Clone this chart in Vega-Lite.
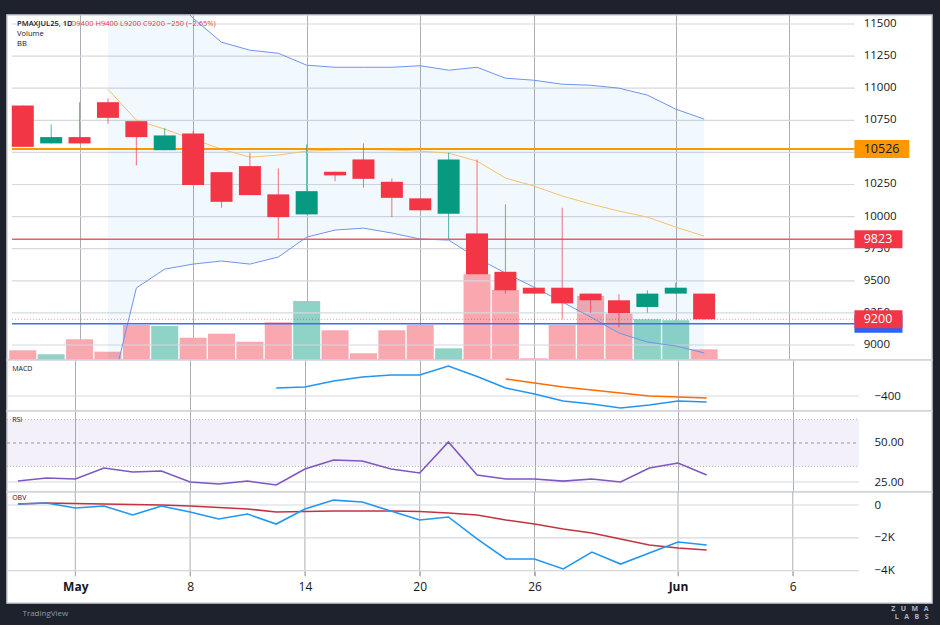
{
  "$schema": "https://vega.github.io/schema/vega-lite/v6.json",
  "background": "#1e222d",
  "padding": {"left": 5, "top": 14, "right": 9, "bottom": 5},
  "spacing": 0,
  "bounds": "flush",
  "datasets": {
    "bars": [
      {"i": 0, "o": 10865, "h": 10865, "l": 10543, "c": 10543, "v": 97, "up": null, "lo": null, "mid": null, "macd": null, "sig": null, "rsi": 25.6, "obv": 60, "obvma": 60},
      {"i": 1, "o": 10570, "h": 10718, "l": 10570, "c": 10619, "v": 57, "up": null, "lo": null, "mid": null, "macd": null, "sig": null, "rsi": 27.6, "obv": 120, "obvma": 120},
      {"i": 2, "o": 10619, "h": 10891, "l": 10570, "c": 10570, "v": 207, "up": null, "lo": null, "mid": null, "macd": null, "sig": null, "rsi": 26.9, "obv": -180, "obvma": 90},
      {"i": 3, "o": 10891, "h": 10920, "l": 10722, "c": 10769, "v": 83, "up": 13451, "lo": 8533, "mid": 10992, "macd": null, "sig": null, "rsi": 34.0, "obv": -60, "obvma": 60},
      {"i": 4, "o": 10743, "h": 10743, "l": 10398, "c": 10619, "v": 350, "up": 12058, "lo": 9444, "mid": 10751, "macd": null, "sig": null, "rsi": 31.4, "obv": -610, "obvma": 30},
      {"i": 5, "o": 10517, "h": 10691, "l": 10517, "c": 10632, "v": 340, "up": 11770, "lo": 9591, "mid": 10681, "macd": null, "sig": null, "rsi": 32.1, "obv": -60, "obvma": 0},
      {"i": 6, "o": 10647, "h": 10665, "l": 10245, "c": 10245, "v": 223, "up": 11545, "lo": 9630, "mid": 10603, "macd": null, "sig": null, "rsi": 25.0, "obv": -430, "obvma": -60},
      {"i": 7, "o": 10346, "h": 10346, "l": 10069, "c": 10115, "v": 263, "up": 11358, "lo": 9654, "mid": 10525, "macd": null, "sig": null, "rsi": 23.7, "obv": -850, "obvma": -150},
      {"i": 8, "o": 10393, "h": 10497, "l": 10167, "c": 10167, "v": 183, "up": 11296, "lo": 9630, "mid": 10463, "macd": null, "sig": null, "rsi": 25.6, "obv": -550, "obvma": -240},
      {"i": 9, "o": 10173, "h": 10375, "l": 9823, "c": 9996, "v": 377, "up": 11272, "lo": 9685, "mid": 10479, "macd": -320, "sig": null, "rsi": 23.1, "obv": -1160, "obvma": -430},
      {"i": 10, "o": 10017, "h": 10562, "l": 10017, "c": 10198, "v": 590, "up": 11179, "lo": 9840, "mid": 10510, "macd": -310, "sig": null, "rsi": 33.3, "obv": -240, "obvma": -400},
      {"i": 11, "o": 10349, "h": 10349, "l": 10276, "c": 10321, "v": 297, "up": 11163, "lo": 9895, "mid": 10518, "macd": -250, "sig": null, "rsi": 39.1, "obv": 300, "obvma": -370},
      {"i": 12, "o": 10445, "h": 10570, "l": 10224, "c": 10294, "v": 67, "up": 11163, "lo": 9910, "mid": 10525, "macd": -210, "sig": null, "rsi": 38.5, "obv": 180, "obvma": -370},
      {"i": 13, "o": 10271, "h": 10297, "l": 9996, "c": 10146, "v": 297, "up": 11163, "lo": 9872, "mid": 10518, "macd": -190, "sig": null, "rsi": 33.3, "obv": -370, "obvma": -370},
      {"i": 14, "o": 10142, "h": 10142, "l": 10049, "c": 10049, "v": 350, "up": 11175, "lo": 9825, "mid": 10510, "macd": -190, "sig": null, "rsi": 30.8, "obv": -910, "obvma": -400},
      {"i": 15, "o": 10023, "h": 10497, "l": 9823, "c": 10445, "v": 117, "up": 11140, "lo": 9817, "mid": 10494, "macd": -100, "sig": null, "rsi": 50.6, "obv": -730, "obvma": -490},
      {"i": 16, "o": 9869, "h": 10445, "l": 9550, "c": 9550, "v": 857, "up": 11163, "lo": 9677, "mid": 10432, "macd": -205, "sig": null, "rsi": 29.5, "obv": -2070, "obvma": -610},
      {"i": 17, "o": 9570, "h": 10095, "l": 9400, "c": 9426, "v": 700, "up": 11078, "lo": 9560, "mid": 10300, "macd": -320, "sig": -230, "rsi": 26.9, "obv": -3290, "obvma": -910},
      {"i": 18, "o": 9446, "h": 9446, "l": 9400, "c": 9400, "v": 17, "up": 11062, "lo": 9451, "mid": 10238, "macd": -380, "sig": -270, "rsi": 26.9, "obv": -3290, "obvma": -1160},
      {"i": 19, "o": 9446, "h": 10069, "l": 9200, "c": 9324, "v": 350, "up": 11031, "lo": 9335, "mid": 10160, "macd": -450, "sig": -310, "rsi": 25.6, "obv": -3900, "obvma": -1460},
      {"i": 20, "o": 9400, "h": 9400, "l": 9250, "c": 9348, "v": 640, "up": 11023, "lo": 9218, "mid": 10098, "macd": -480, "sig": -340, "rsi": 26.9, "obv": -2870, "obvma": -1710},
      {"i": 21, "o": 9348, "h": 9395, "l": 9135, "c": 9247, "v": 463, "up": 11000, "lo": 9093, "mid": 10043, "macd": -520, "sig": -370, "rsi": 25.0, "obv": -3600, "obvma": -2070},
      {"i": 22, "o": 9296, "h": 9426, "l": 9252, "c": 9400, "v": 407, "up": 10946, "lo": 9023, "mid": 9996, "macd": -490, "sig": -400, "rsi": 34.0, "obv": -2930, "obvma": -2440},
      {"i": 23, "o": 9400, "h": 9485, "l": 9400, "c": 9446, "v": 397, "up": 10837, "lo": 8992, "mid": 9918, "macd": -450, "sig": -410, "rsi": 37.2, "obv": -2260, "obvma": -2620},
      {"i": 24, "o": 9400, "h": 9400, "l": 9200, "c": 9200, "v": 107, "up": 10759, "lo": 8938, "mid": 9848, "macd": -460, "sig": -420, "rsi": 29.5, "obv": -2440, "obvma": -2740}
    ],
    "pgrid": [{"p": 9000}, {"p": 9250}, {"p": 9500}, {"p": 9750}, {"p": 10000}, {"p": 10250}, {"p": 10500}, {"p": 10750}, {"p": 11000}, {"p": 11250}, {"p": 11500}],
    "ticks": [{"t": 2}, {"t": 6}, {"t": 10}, {"t": 14}, {"t": 18}, {"t": 23}, {"t": 27}]
  },
  "vconcat": [
    {
      "width": 925,
      "height": 345,
      "data": {"name": "bars"},
      "resolve": {"scale": {"y": "independent"}},
      "layer": [
        {
          "mark": {"type": "bar", "width": 27, "clip": true},
          "encoding": {
            "x": {"field": "i", "type": "quantitative", "scale": {"domain": [-0.38, 31.85], "nice": false, "zero": false},
              "axis": {"values": [2, 6, 10, 14, 18, 23, 27], "labels": false, "ticks": false, "domain": false, "grid": true, "gridColor": "#abaeb6", "gridWidth": 1, "title": null}},
            "y": {"field": "v", "type": "quantitative", "scale": {"domain": [0, 3450], "nice": false}, "axis": null},
            "color": {"condition": {"test": "datum.c >= datum.o", "value": "#8fd3c6"}, "value": "#f8a8ae"}
          }
        },
        {
          "layer": [
            {
              "data": {"name": "pgrid"},
              "mark": {"type": "rule", "color": "#d6d8de", "strokeWidth": 1.2},
              "encoding": {
                "x": {"datum": -0.38}, "x2": {"datum": 29.3},
                "y": {"field": "p", "type": "quantitative", "scale": {"domain": [8883, 11570], "nice": false, "zero": false}, "title": null,
                  "axis": {"orient": "right", "labels": false, "grid": false, "ticks": false, "domain": false}}
              }
            },
            {
              "data": {"name": "pgrid"},
              "transform": [{"filter": "datum.p != 10500"}],
              "mark": {"type": "text", "align": "left", "baseline": "middle", "fontSize": 11.5, "color": "#131722", "font": "Open Sans"},
              "encoding": {
                "x": {"datum": 29.62},
                "y": {"field": "p", "type": "quantitative", "scale": {"domain": [8883, 11570], "nice": false, "zero": false}},
                "text": {"field": "p", "type": "quantitative", "format": "d"}
              }
            },
            {
              "mark": {"type": "area", "color": "#2196f3", "opacity": 0.06, "clip": true},
              "encoding": {
                "x": {"field": "i", "type": "quantitative"},
                "y": {"field": "up", "type": "quantitative", "scale": {"domain": [8883, 11570], "nice": false, "zero": false}},
                "y2": {"field": "lo"}
              }
            },
            {
              "mark": {"type": "line", "color": "#6d94ee", "strokeWidth": 1, "clip": true},
              "encoding": {"x": {"field": "i", "type": "quantitative"}, "y": {"field": "up", "type": "quantitative", "scale": {"domain": [8883, 11570], "nice": false, "zero": false}}}
            },
            {
              "mark": {"type": "line", "color": "#6d94ee", "strokeWidth": 1, "clip": true},
              "encoding": {"x": {"field": "i", "type": "quantitative"}, "y": {"field": "lo", "type": "quantitative", "scale": {"domain": [8883, 11570], "nice": false, "zero": false}}}
            },
            {
              "mark": {"type": "line", "color": "#f6c26b", "strokeWidth": 1, "clip": true},
              "encoding": {"x": {"field": "i", "type": "quantitative"}, "y": {"field": "mid", "type": "quantitative", "scale": {"domain": [8883, 11570], "nice": false, "zero": false}}}
            },
            {
              "data": {"values": [{"p": 10526}]},
              "mark": {"type": "rule", "color": "#ff9800", "strokeWidth": 2},
              "encoding": {"x": {"datum": -0.38}, "x2": {"datum": 29.3}, "y": {"field": "p", "type": "quantitative", "scale": {"domain": [8883, 11570], "nice": false, "zero": false}}}
            },
            {
              "data": {"values": [{"p": 9823}]},
              "mark": {"type": "rule", "color": "#f05a67", "strokeWidth": 1.5},
              "encoding": {"x": {"datum": -0.38}, "x2": {"datum": 29.3}, "y": {"field": "p", "type": "quantitative", "scale": {"domain": [8883, 11570], "nice": false, "zero": false}}}
            },
            {
              "data": {"values": [{"p": 9165}]},
              "mark": {"type": "rule", "color": "#3d6cf5", "strokeWidth": 1.5},
              "encoding": {"x": {"datum": -0.38}, "x2": {"datum": 29.3}, "y": {"field": "p", "type": "quantitative", "scale": {"domain": [8883, 11570], "nice": false, "zero": false}}}
            },
            {
              "data": {"values": [{"p": 9200}]},
              "mark": {"type": "rule", "color": "#f23645", "strokeWidth": 1, "strokeDash": [1, 2], "opacity": 0.5},
              "encoding": {"x": {"datum": -0.38}, "x2": {"datum": 29.3}, "y": {"field": "p", "type": "quantitative", "scale": {"domain": [8883, 11570], "nice": false, "zero": false}}}
            },
            {
              "mark": {"type": "rule", "strokeWidth": 1, "opacity": 0.7},
              "encoding": {
                "x": {"field": "i", "type": "quantitative"},
                "y": {"field": "l", "type": "quantitative", "scale": {"domain": [8883, 11570], "nice": false, "zero": false}},
                "y2": {"field": "h"},
                "color": {"condition": {"test": "datum.c >= datum.o", "value": "#089981"}, "value": "#f23645"}
              }
            },
            {
              "mark": {"type": "bar", "width": 22},
              "encoding": {
                "x": {"field": "i", "type": "quantitative"},
                "y": {"field": "o", "type": "quantitative", "scale": {"domain": [8883, 11570], "nice": false, "zero": false}},
                "y2": {"field": "c"},
                "color": {"condition": {"test": "datum.c >= datum.o", "value": "#089981"}, "value": "#f23645"}
              }
            },
            {
              "data": {"values": [{"p": 9165}]},
              "mark": {"type": "point", "shape": "M-1,-0.375L1,-0.375L1,0.375L-1,0.375Z", "size": 2304, "filled": true, "opacity": 1, "color": "#2962ff", "strokeWidth": 0},
              "encoding": {"x": {"datum": 30.14}, "y": {"field": "p", "type": "quantitative", "scale": {"domain": [8883, 11570], "nice": false, "zero": false}}}
            },
            {
              "data": {"values": [{"p": 9200}, {"p": 9823}]},
              "mark": {"type": "point", "shape": "M-1,-0.375L1,-0.375L1,0.375L-1,0.375Z", "size": 2304, "filled": true, "opacity": 1, "color": "#f23645", "strokeWidth": 0},
              "encoding": {"x": {"datum": 30.14}, "y": {"field": "p", "type": "quantitative", "scale": {"domain": [8883, 11570], "nice": false, "zero": false}}}
            },
            {
              "data": {"values": [{"p": 10526}]},
              "mark": {"type": "point", "shape": "M-1,-0.327L1,-0.327L1,0.327L-1,0.327Z", "size": 3025, "filled": true, "opacity": 1, "color": "#ff9800", "strokeWidth": 0},
              "encoding": {"x": {"datum": 30.26}, "y": {"field": "p", "type": "quantitative", "scale": {"domain": [8883, 11570], "nice": false, "zero": false}}}
            },
            {
              "data": {"values": [{"p": 10526, "t": "10526", "k": "ma"}, {"p": 9823, "t": "9823", "k": "res"}, {"p": 9200, "t": "9200", "k": "last"}]},
              "mark": {"type": "text", "align": "left", "baseline": "middle", "fontSize": 12.5, "font": "Open Sans"},
              "encoding": {
                "x": {"datum": 29.62},
                "y": {"field": "p", "type": "quantitative", "scale": {"domain": [8883, 11570], "nice": false, "zero": false}},
                "text": {"field": "t"},
                "color": {"condition": {"test": "datum.k == 'ma'", "value": "#131722"}, "value": "#ffffff"}
              }
            },
            {
              "data": {"values": [{"t": "PMAXJUL25, 1D"}]},
              "mark": {"type": "text", "align": "left", "baseline": "middle", "fontSize": 7.5, "fontWeight": 600, "color": "#131722"},
              "encoding": {"x": {"datum": -0.2}, "y": {"datum": 11500, "scale": {"domain": [8883, 11570], "nice": false, "zero": false}}, "text": {"field": "t"}}
            },
            {
              "data": {"values": [{"t": "O9400 H9400 L9200 C9200 −250 (−2.65%)"}]},
              "mark": {"type": "text", "align": "left", "baseline": "middle", "fontSize": 7.5, "color": "#f23645"},
              "encoding": {"x": {"datum": 1.68}, "y": {"datum": 11500, "scale": {"domain": [8883, 11570], "nice": false, "zero": false}}, "text": {"field": "t"}}
            },
            {
              "data": {"values": [{"t": "Volume"}]},
              "mark": {"type": "text", "align": "left", "baseline": "middle", "fontSize": 7.5, "color": "#131722"},
              "encoding": {"x": {"datum": -0.2}, "y": {"datum": 11422, "scale": {"domain": [8883, 11570], "nice": false, "zero": false}}, "text": {"field": "t"}}
            },
            {
              "data": {"values": [{"t": "BB"}]},
              "mark": {"type": "text", "align": "left", "baseline": "middle", "fontSize": 7.5, "color": "#131722"},
              "encoding": {"x": {"datum": -0.2}, "y": {"datum": 11344, "scale": {"domain": [8883, 11570], "nice": false, "zero": false}}, "text": {"field": "t"}}
            }
          ]
        }
      ]
    },
    {
      "width": 925,
      "height": 51,
      "data": {"name": "bars"},
      "layer": [
        {
          "data": {"values": [{"g": -400}]},
          "mark": {"type": "rule", "color": "#d6d8de", "strokeWidth": 1.2},
          "encoding": {
            "x": {"datum": -0.38}, "x2": {"datum": 29.3},
            "y": {"field": "g", "type": "quantitative", "scale": {"domain": [-550, -40], "nice": false, "zero": false}, "title": null,
              "axis": {"orient": "right", "offset": -68, "values": [-400], "labelExpr": "'−' + abs(datum.value)", "grid": false, "ticks": false, "domain": false, "labelPadding": 10, "labelFontSize": 11.5, "labelColor": "#131722", "labelOverlap": false, "zindex": 0}}
          }
        },
        {
          "mark": {"type": "line", "color": "#2196f3", "strokeWidth": 1.6, "clip": true},
          "encoding": {
            "x": {"field": "i", "type": "quantitative", "scale": {"domain": [-0.38, 31.85], "nice": false, "zero": false},
              "axis": {"values": [2, 6, 10, 14, 18, 23, 27], "labels": false, "ticks": false, "domain": false, "grid": true, "gridColor": "#abaeb6", "gridWidth": 1, "title": null}},
            "y": {"field": "macd", "type": "quantitative", "scale": {"domain": [-550, -40], "nice": false, "zero": false}}
          }
        },
        {
          "mark": {"type": "line", "color": "#ff6d00", "strokeWidth": 1.6, "clip": true},
          "encoding": {"x": {"field": "i", "type": "quantitative"}, "y": {"field": "sig", "type": "quantitative", "scale": {"domain": [-550, -40], "nice": false, "zero": false}}}
        },
        {
          "data": {"values": [{"t": "MACD"}]},
          "mark": {"type": "text", "align": "left", "baseline": "middle", "fontSize": 7, "color": "#131722"},
          "encoding": {"x": {"datum": -0.2}, "y": {"datum": -130, "scale": {"domain": [-550, -40], "nice": false, "zero": false}}, "text": {"field": "t"}}
        }
      ]
    },
    {
      "width": 925,
      "height": 81,
      "data": {"name": "bars"},
      "layer": [
        {
          "data": {"values": [{"a": 65, "b": 35}]},
          "mark": {"type": "rect", "color": "#7e57c2", "opacity": 0.09},
          "encoding": {
            "x": {"datum": -0.38}, "x2": {"datum": 29.3},
            "y": {"field": "a", "type": "quantitative", "scale": {"domain": [18.6, 70.5], "nice": false, "zero": false}, "title": null,
              "axis": {"orient": "right", "offset": -68, "values": [25, 50], "format": ".2f", "grid": false, "ticks": false, "domain": false, "labelPadding": 10, "labelFontSize": 11.5, "labelColor": "#131722", "labelOverlap": false, "zindex": 0}},
            "y2": {"field": "b"}
          }
        },
        {
          "data": {"values": [{"g": 25}]},
          "mark": {"type": "rule", "color": "#d6d8de", "strokeWidth": 1.2},
          "encoding": {"x": {"datum": -0.38}, "x2": {"datum": 29.3}, "y": {"field": "g", "type": "quantitative", "scale": {"domain": [18.6, 70.5], "nice": false, "zero": false}}}
        },
        {
          "data": {"values": [{"g": 65}, {"g": 35}]},
          "mark": {"type": "rule", "color": "#b2b5be", "strokeWidth": 1, "strokeDash": [1, 2]},
          "encoding": {"x": {"datum": -0.38}, "x2": {"datum": 29.3}, "y": {"field": "g", "type": "quantitative", "scale": {"domain": [18.6, 70.5], "nice": false, "zero": false}}}
        },
        {
          "data": {"values": [{"g": 50}]},
          "mark": {"type": "rule", "color": "#9598a1", "strokeWidth": 1, "strokeDash": [3, 3]},
          "encoding": {"x": {"datum": -0.38}, "x2": {"datum": 29.3}, "y": {"field": "g", "type": "quantitative", "scale": {"domain": [18.6, 70.5], "nice": false, "zero": false}}}
        },
        {
          "mark": {"type": "line", "color": "#7e57c2", "strokeWidth": 1.6, "clip": true},
          "encoding": {
            "x": {"field": "i", "type": "quantitative", "scale": {"domain": [-0.38, 31.85], "nice": false, "zero": false},
              "axis": {"values": [2, 6, 10, 14, 18, 23, 27], "labels": false, "ticks": false, "domain": false, "grid": true, "gridColor": "#abaeb6", "gridWidth": 1, "title": null}},
            "y": {"field": "rsi", "type": "quantitative", "scale": {"domain": [18.6, 70.5], "nice": false, "zero": false}}
          }
        },
        {
          "data": {"values": [{"t": "RSI"}]},
          "mark": {"type": "text", "align": "left", "baseline": "middle", "fontSize": 7, "color": "#131722"},
          "encoding": {"x": {"datum": -0.2}, "y": {"datum": 64.7, "scale": {"domain": [18.6, 70.5], "nice": false, "zero": false}}, "text": {"field": "t"}}
        }
      ]
    },
    {
      "width": 925,
      "height": 111,
      "data": {"name": "bars"},
      "layer": [
        {
          "data": {"name": "ticks"},
          "mark": {"type": "rule", "color": "#abaeb6", "strokeWidth": 1},
          "encoding": {
            "x": {"field": "t", "type": "quantitative"},
            "y": {"datum": 793, "scale": {"domain": [-5976, 793], "nice": false, "zero": false}},
            "y2": {"datum": -4330}
          }
        },
        {
          "data": {"values": [{"g": 0}, {"g": -2000}, {"g": -4000}]},
          "mark": {"type": "rule", "color": "#d6d8de", "strokeWidth": 1.2},
          "encoding": {
            "x": {"datum": -0.38}, "x2": {"datum": 29.3},
            "y": {"field": "g", "type": "quantitative", "scale": {"domain": [-5976, 793], "nice": false, "zero": false},
              "title": ["Z\u00a0\u00a0\u00a0U\u00a0\u00a0\u00a0M\u00a0\u00a0\u00a0A", "L\u00a0\u00a0\u00a0A\u00a0\u00a0\u00a0B\u00a0\u00a0\u00a0S"],
              "axis": {"orient": "right", "offset": -68, "values": [0, -2000, -4000], "labelExpr": "datum.value == 0 ? '0' : '−' + (abs(datum.value) / 1000) + 'K'", "grid": false, "ticks": false, "domain": false, "labelPadding": 10, "labelFontSize": 11.5, "labelColor": "#131722", "labelOverlap": false, "zindex": 0,
                "titleAngle": 0, "titleX": 64, "titleY": 116, "titleAlign": "right", "titleBaseline": "middle", "titleFontSize": 7, "titleFontWeight": "bold", "titleColor": "#b2b5be", "titleLineHeight": 8}}
          }
        },
        {
          "mark": {"type": "line", "color": "#c2343f", "strokeWidth": 1.6, "clip": true},
          "encoding": {"x": {"field": "i", "type": "quantitative"}, "y": {"field": "obvma", "type": "quantitative", "scale": {"domain": [-5976, 793], "nice": false, "zero": false}}}
        },
        {
          "mark": {"type": "line", "color": "#2196f3", "strokeWidth": 1.6, "clip": true},
          "encoding": {
            "x": {"field": "i", "type": "quantitative", "scale": {"domain": [-0.38, 31.85], "nice": false, "zero": false},
              "axis": {"values": [2, 6, 10, 14, 18, 23, 27],
                "labelExpr": "datum.value == 2 ? 'May' : datum.value == 6 ? '8' : datum.value == 10 ? '14' : datum.value == 14 ? '20' : datum.value == 18 ? '26' : datum.value == 23 ? 'Jun' : '6'",
                "grid": false, "domain": false, "ticks": true, "tickSize": 5, "tickColor": "#b4b7bf", "offset": -32, "labelPadding": 5,
                "labelFontSize": 12, "labelColor": "#131722",
                "labelFontWeight": {"condition": {"test": "datum.value == 2 || datum.value == 23", "value": "bold"}, "value": "normal"},
                "title": "TradingView", "titleX": 15, "titleY": 42, "titleAlign": "left", "titleBaseline": "middle", "titleFontSize": 8, "titleFontWeight": "normal", "titleColor": "#9598a1", "zindex": 0}},
            "y": {"field": "obv", "type": "quantitative", "scale": {"domain": [-5976, 793], "nice": false, "zero": false}}
          }
        },
        {
          "data": {"values": [{"t": "OBV"}]},
          "mark": {"type": "text", "align": "left", "baseline": "middle", "fontSize": 7, "color": "#131722"},
          "encoding": {"x": {"datum": -0.2}, "y": {"datum": 427, "scale": {"domain": [-5976, 793], "nice": false, "zero": false}}, "text": {"field": "t"}}
        }
      ]
    }
  ],
  "resolve": {"scale": {"x": "independent", "y": "independent"}},
  "config": {
    "view": {"fill": "#ffffff", "stroke": "#d1d4dc", "strokeWidth": 1.5},
    "font": "Open Sans",
    "axis": {"labelFont": "Open Sans", "titleFont": "Open Sans"}
  }
}
